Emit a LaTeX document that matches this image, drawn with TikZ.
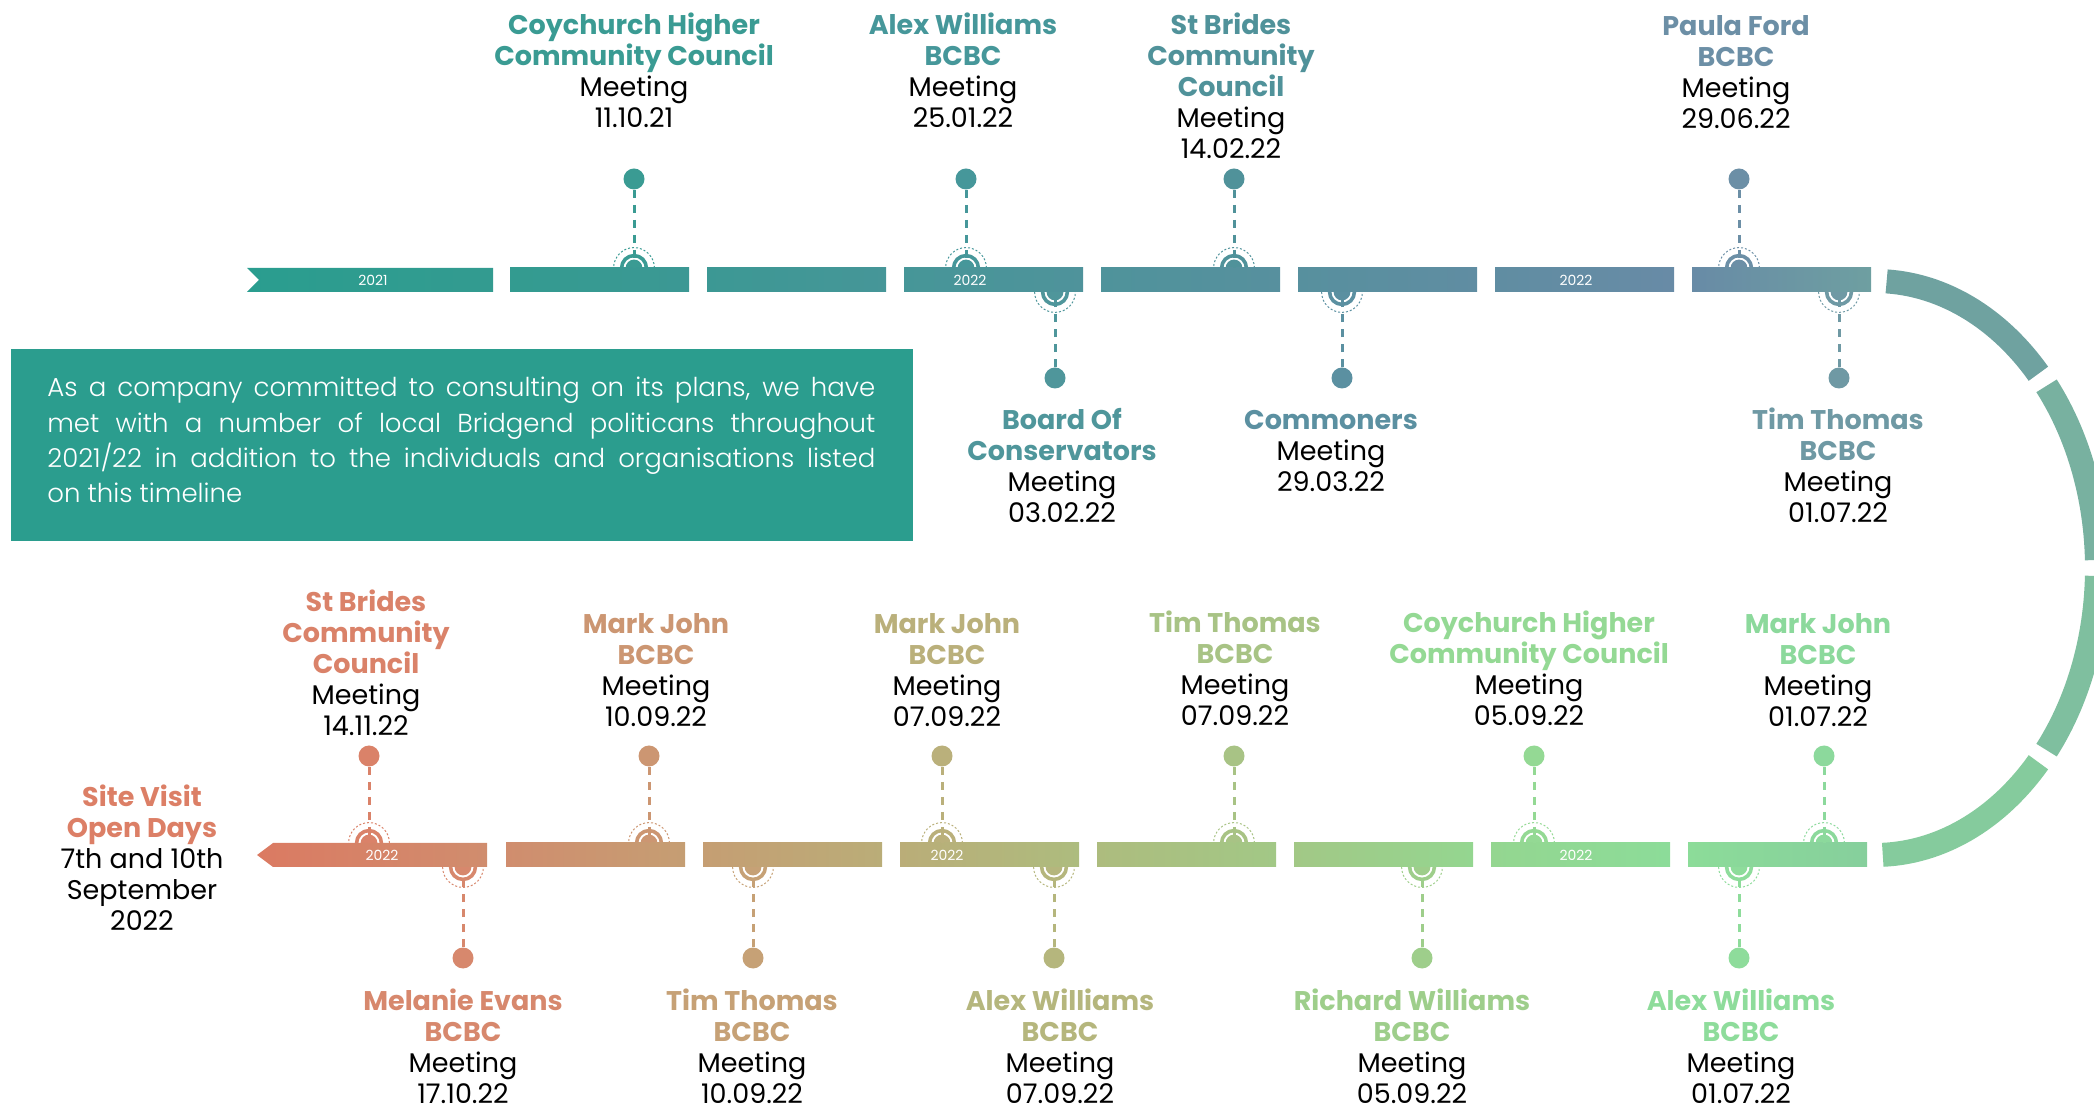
\documentclass[tikz,border=0pt]{standalone}
\usepackage{fontspec}
\setmainfont{Poppins}
\newfontfamily\lightfont{Poppins Light}

% top row stops
\definecolor{T1}{HTML}{2A9D8F}
\definecolor{T2}{HTML}{339B90}
\definecolor{T3}{HTML}{3C9894}
\definecolor{T4}{HTML}{469698}
\definecolor{T5}{HTML}{4F939B}
\definecolor{T6}{HTML}{57909E}
\definecolor{T7}{HTML}{608DA2}
\definecolor{T8}{HTML}{688BA6}
\definecolor{T9}{HTML}{6E9FA1}
% bottom row stops
\definecolor{B1}{HTML}{DB7A62}
\definecolor{B2}{HTML}{D08D6E}
\definecolor{B3}{HTML}{C59E73}
\definecolor{B4}{HTML}{BAAD78}
\definecolor{B5}{HTML}{ADBC7E}
\definecolor{B6}{HTML}{A2C886}
\definecolor{B7}{HTML}{94D690}
\definecolor{B8}{HTML}{8CDC99}
\definecolor{B9}{HTML}{86CF9C}
% curve
\definecolor{A1}{HTML}{6FA2A0}
\definecolor{A2}{HTML}{78B1A0}
\definecolor{A3}{HTML}{7FBF9F}
\definecolor{A4}{HTML}{85CB9D}
% events
\definecolor{tA}{HTML}{3A9B93}
\definecolor{tB}{HTML}{46979A}
\definecolor{tC}{HTML}{50929A}
\definecolor{tD}{HTML}{6C8FA6}
\definecolor{tE}{HTML}{4F969B}
\definecolor{tF}{HTML}{5B90A1}
\definecolor{tG}{HTML}{6F99A4}
\definecolor{bA}{HTML}{DA8269}
\definecolor{bB}{HTML}{CC9672}
\definecolor{bC}{HTML}{BAB07B}
\definecolor{bD}{HTML}{A8C385}
\definecolor{bE}{HTML}{94D994}
\definecolor{bF}{HTML}{8CD99C}
\definecolor{bG}{HTML}{D7886D}
\definecolor{bH}{HTML}{C6A176}
\definecolor{bI}{HTML}{B5B67D}
\definecolor{bJ}{HTML}{9ECE8B}
\definecolor{bK}{HTML}{8EDC9B}
\definecolor{site}{HTML}{DC7F66}
\definecolor{boxteal}{HTML}{2B9D8E}

\newcommand\who[2]{\textcolor{#1}{\bfseries #2}}
\newcommand\ringmark[2]{%
  \fill[#2] (#1) circle[radius=4.2pt];
  \draw[#2, line width=1.8pt] (#1) circle[radius=6.2pt];
  \draw[#2, line width=0.5pt, dash pattern=on 1pt off 1pt] (#1) circle[radius=10.2pt];}

\begin{document}
\begin{tikzpicture}[x=0.5pt, y=-0.5pt,
  evlabel/.style={align=center, inner sep=0pt, font=\fontsize{13.5}{15.5}\selectfont},
  pinhead/.style={circle, fill=#1, inner sep=0pt, minimum size=10.5pt},
  stemline/.style={draw=#1, line width=1.5pt, dash pattern=on 4pt off 3.5pt},
  yearlbl/.style={inner sep=0pt, text=white, font=\fontsize{7}{8}\selectfont}]

\useasboundingbox (0,0) rectangle (2094,1111);

%------------------ MARKERS ON THE BARS ------------------%
\coordinate (mA) at (634,268);
\coordinate (mB) at (966,268);
\coordinate (mC) at (1234,268);
\coordinate (mD) at (1739,268);
\coordinate (mE) at (1055,292);
\coordinate (mF) at (1342,292);
\coordinate (mG) at (1839,292);

\coordinate (mH) at (369,843);
\coordinate (mI) at (649,843);
\coordinate (mJ) at (942,843);
\coordinate (mK) at (1234,843);
\coordinate (mL) at (1534,843);
\coordinate (mM) at (1824,843);
\coordinate (mN) at (463,867);
\coordinate (mO) at (753,867);
\coordinate (mP) at (1054,867);
\coordinate (mQ) at (1422,867);
\coordinate (mR) at (1739,867);

\ringmark{mA}{tA} \ringmark{mB}{tB} \ringmark{mC}{tC} \ringmark{mD}{tD}
\ringmark{mE}{tE} \ringmark{mF}{tF} \ringmark{mG}{tG}
\ringmark{mH}{bA} \ringmark{mI}{bB} \ringmark{mJ}{bC} \ringmark{mK}{bD}
\ringmark{mL}{bE} \ringmark{mM}{bF}
\ringmark{mN}{bG} \ringmark{mO}{bH} \ringmark{mP}{bI} \ringmark{mQ}{bJ}
\ringmark{mR}{bK}

%------------------ TOP ROW ------------------%
\shade[left color=T1, right color=T2]
  (247,268) -- (493,268) -- (493,292) -- (247,292) -- (259,280) -- cycle;
\foreach \xa/\ca/\cb in {510/T2/T3, 707/T3/T4, 904/T4/T5, 1101/T5/T6,
                         1298/T6/T7, 1495/T7/T8, 1692/T8/T9}
  \shade[left color=\ca, right color=\cb] (\xa,268) rectangle ++(179,24);

\node[yearlbl] (y21) at (373,280) {2021};
\node[yearlbl] (y22a) at (970,280) {2022};
\node[yearlbl] (y22b) at (1576,280) {2022};

%------------------ CURVE ------------------%
\draw[A1, line width=12pt] plot[domain=-87:-42.6, samples=30]
  ({1875+222*cos(\x)}, {568+287*sin(\x)});
\draw[A2, line width=12pt] plot[domain=-39.4:-1.6, samples=30]
  ({1875+222*cos(\x)}, {568+287*sin(\x)});
\draw[A3, line width=12pt] plot[domain=1.6:39.4, samples=30]
  ({1875+222*cos(\x)}, {568+287*sin(\x)});
\draw[A4, line width=12pt] plot[domain=42.6:88, samples=30]
  ({1875+222*cos(\x)}, {568+287*sin(\x)});

%------------------ BOTTOM ROW ------------------%
\shade[left color=B1, right color=B2]
  (257,855) -- (273,843) -- (487,843) -- (487,867) -- (273,867) -- cycle;
\foreach \xa/\ca/\cb in {506/B2/B3, 703/B3/B4, 900/B4/B5, 1097/B5/B6,
                         1294/B6/B7, 1491/B7/B8, 1688/B8/B9}
  \shade[left color=\ca, right color=\cb] (\xa,843) rectangle ++(179,24);

\node[yearlbl] (y22c) at (382,855) {2022};
\node[yearlbl] (y22d) at (947,855) {2022};
\node[yearlbl] (y22e) at (1576,855) {2022};

%------------------ PINS ------------------%
\node[pinhead=tA] (pA) at (634,179) {};
\node[pinhead=tB] (pB) at (966,179) {};
\node[pinhead=tC] (pC) at (1234,179) {};
\node[pinhead=tD] (pD) at (1739,179) {};
\node[pinhead=tE] (pE) at (1055,378) {};
\node[pinhead=tF] (pF) at (1342,378) {};
\node[pinhead=tG] (pG) at (1839,378) {};
\node[pinhead=bA] (pH) at (369,756) {};
\node[pinhead=bB] (pI) at (649,756) {};
\node[pinhead=bC] (pJ) at (942,756) {};
\node[pinhead=bD] (pK) at (1234,756) {};
\node[pinhead=bE] (pL) at (1534,756) {};
\node[pinhead=bF] (pM) at (1824,756) {};
\node[pinhead=bG] (pN) at (463,958) {};
\node[pinhead=bH] (pO) at (753,958) {};
\node[pinhead=bI] (pP) at (1054,958) {};
\node[pinhead=bJ] (pQ) at (1422,958) {};
\node[pinhead=bK] (pR) at (1739,958) {};

\draw[stemline=tA] (pA) -- (mA);
\draw[stemline=tB] (pB) -- (mB);
\draw[stemline=tC] (pC) -- (mC);
\draw[stemline=tD] (pD) -- (mD);
\draw[stemline=tE] (pE) -- (mE);
\draw[stemline=tF] (pF) -- (mF);
\draw[stemline=tG] (pG) -- (mG);
\draw[stemline=bA] (pH) -- (mH);
\draw[stemline=bB] (pI) -- (mI);
\draw[stemline=bC] (pJ) -- (mJ);
\draw[stemline=bD] (pK) -- (mK);
\draw[stemline=bE] (pL) -- (mL);
\draw[stemline=bF] (pM) -- (mM);
\draw[stemline=bG] (pN) -- (mN);
\draw[stemline=bH] (pO) -- (mO);
\draw[stemline=bI] (pP) -- (mP);
\draw[stemline=bJ] (pQ) -- (mQ);
\draw[stemline=bK] (pR) -- (mR);

%------------------ LABELS ------------------%
\node[evlabel, anchor=north] (lA) at (634,12)
  {\who{tA}{Coychurch Higher}\\\who{tA}{Community Council}\\Meeting\\11.10.21};
\node[evlabel, anchor=north] (lB) at (963,12)
  {\who{tB}{Alex Williams}\\\who{tB}{BCBC}\\Meeting\\25.01.22};
\node[evlabel, anchor=north] (lC) at (1231,12)
  {\who{tC}{St Brides}\\\who{tC}{Community}\\\who{tC}{Council}\\Meeting\\14.02.22};
\node[evlabel, anchor=north] (lD) at (1736,15)
  {\who{tD}{Paula Ford}\\\who{tD}{BCBC}\\Meeting\\29.06.22};
\node[evlabel, anchor=north] (lE) at (1062,408)
  {\who{tE}{Board Of}\\\who{tE}{Conservators}\\Meeting\\03.02.22};
\node[evlabel, anchor=north] (lF) at (1331,410)
  {\who{tF}{Commoners}\\Meeting\\29.03.22};
\node[evlabel, anchor=north] (lG) at (1838,407)
  {\who{tG}{Tim Thomas}\\\who{tG}{BCBC}\\Meeting\\01.07.22};

\node[evlabel, anchor=north] (lH) at (366,589)
  {\who{bA}{St Brides}\\\who{bA}{Community}\\\who{bA}{Council}\\Meeting\\14.11.22};
\node[evlabel, anchor=north] (lI) at (656,613)
  {\who{bB}{Mark John}\\\who{bB}{BCBC}\\Meeting\\10.09.22};
\node[evlabel, anchor=north] (lJ) at (947,613)
  {\who{bC}{Mark John}\\\who{bC}{BCBC}\\Meeting\\07.09.22};
\node[evlabel, anchor=north] (lK) at (1235,610)
  {\who{bD}{Tim Thomas}\\\who{bD}{BCBC}\\Meeting\\07.09.22};
\node[evlabel, anchor=north] (lL) at (1529,610)
  {\who{bE}{Coychurch Higher}\\\who{bE}{Community Council}\\Meeting\\05.09.22};
\node[evlabel, anchor=north] (lM) at (1818,613)
  {\who{bF}{Mark John}\\\who{bF}{BCBC}\\Meeting\\01.07.22};

\node[evlabel, anchor=north] (lN) at (463,988)
  {\who{bG}{Melanie Evans}\\\who{bG}{BCBC}\\Meeting\\17.10.22};
\node[evlabel, anchor=north] (lO) at (752,988)
  {\who{bH}{Tim Thomas}\\\who{bH}{BCBC}\\Meeting\\10.09.22};
\node[evlabel, anchor=north] (lP) at (1060,988)
  {\who{bI}{Alex Williams}\\\who{bI}{BCBC}\\Meeting\\07.09.22};
\node[evlabel, anchor=north] (lQ) at (1412,988)
  {\who{bJ}{Richard Williams}\\\who{bJ}{BCBC}\\Meeting\\05.09.22};
\node[evlabel, anchor=north] (lR) at (1741,988)
  {\who{bK}{Alex Williams}\\\who{bK}{BCBC}\\Meeting\\01.07.22};

\node[evlabel, anchor=north] (lsite) at (142,784)
  {\who{site}{Site Visit}\\\who{site}{Open Days}\\7th and 10th\\September\\2022};

%------------------ INTRO BOX ------------------%
\fill[boxteal] (11,349) rectangle (913,541);
\node[anchor=north west, inner sep=0pt, align=left, text=white,
      font=\lightfont\fontsize{13}{17.65}\selectfont] (intro) at (47,377)
  {\makebox[414pt][s]{As a company committed to consulting on its plans, we have}\\
   \makebox[414pt][s]{met with a number of local Bridgend politicans throughout}\\
   \makebox[414pt][s]{2021/22 in addition to the individuals and organisations listed}\\
   on this timeline};

\end{tikzpicture}
\end{document}
